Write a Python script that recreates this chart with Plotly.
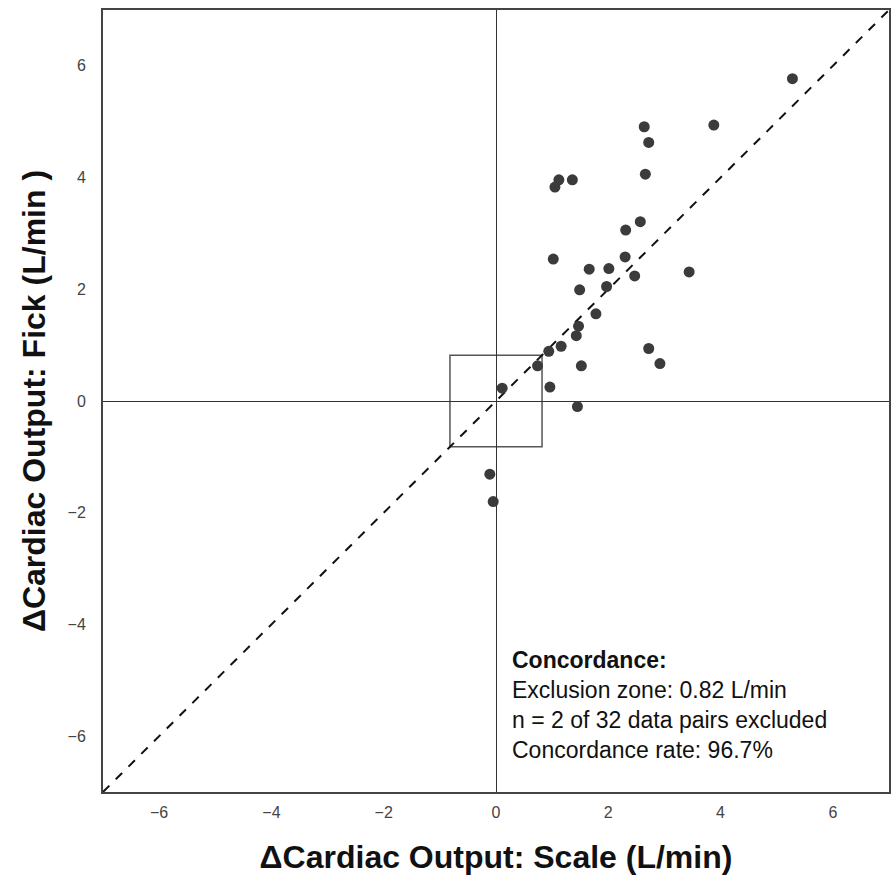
"""
Concordance plot: change in cardiac output, Fick vs Scale
"""

import plotly.graph_objects as go

# change in cardiac output (L/min)
delta_scale = [2.64, 2.72, 3.88, 1.12, 1.05, 1.36, 2.66, 2.57, 2.31, 5.28,
               1.02, 1.66, 2.01, 2.30, 2.47, 3.44, 1.49, 1.97, 1.78, 1.47,
               1.43, 1.16, 0.94, 2.72, 2.92, 0.74, 1.52, 0.96, 0.11, 1.45,
               -0.11, -0.05]
delta_fick = [4.91, 4.63, 4.94, 3.96, 3.83, 3.96, 4.06, 3.21, 3.06, 5.77,
              2.54, 2.36, 2.37, 2.58, 2.24, 2.31, 1.99, 2.05, 1.56, 1.34,
              1.17, 0.98, 0.89, 0.94, 0.67, 0.63, 0.63, 0.25, 0.23, -0.10,
              -1.31, -1.80]

exclusion_zone = 0.82
axis_range = [-7, 7]
tick_vals = [-6, -4, -2, 0, 2, 4, 6]

FONT = 'Liberation Sans, Arial'

fig = go.Figure()

# line of identity
fig.add_trace(
    go.Scatter(
        x=axis_range,
        y=axis_range,
        mode='lines',
        line=dict(color='#111111', width=2, dash='dash'),
        hoverinfo='skip',
        showlegend=False
    )
)

fig.add_trace(
    go.Scatter(
        x=delta_scale,
        y=delta_fick,
        mode='markers',
        marker=dict(color='#3b3b3b', size=11),
        showlegend=False
    )
)

# exclusion zone square
fig.add_shape(
    type='rect',
    x0=-exclusion_zone, x1=exclusion_zone,
    y0=-exclusion_zone, y1=exclusion_zone,
    line=dict(color='#555555', width=1.5),
    layer='below'
)

fig.add_annotation(
    x=0.518, y=0.188, xref='paper', yref='paper',
    xanchor='left', yanchor='top', align='left', showarrow=False,
    text=("<b>Concordance:</b><br>"
          f"Exclusion zone: {exclusion_zone} L/min<br>"
          "n = 2 of 32 data pairs excluded<br>"
          "Concordance rate: 96.7%"),
    font=dict(family=FONT, size=23, color='#111111')
)

axis_style = dict(
    range=axis_range,
    tickvals=tick_vals,
    showgrid=False,
    zeroline=True,
    zerolinecolor='#333333',
    zerolinewidth=1,
    showline=True,
    mirror=True,
    linecolor='#444444',
    linewidth=2,
    ticks='',
    automargin=False,
    tickfont=dict(family=FONT, size=16, color='#444444'),
)

fig.update_xaxes(
    **axis_style,
    ticklabelstandoff=5,
    title=dict(text='<b>ΔCardiac Output: Scale (L/min)</b>', standoff=25,
               font=dict(family=FONT, size=32, color='#111111'))
)
fig.update_yaxes(
    **axis_style,
    ticklabelstandoff=12,
    title=dict(text='<b>ΔCardiac Output: Fick (L/min )</b>', standoff=12,
               font=dict(family=FONT, size=32, color='#111111'))
)

fig.update_layout(
    width=892, height=884,
    margin=dict(l=103, r=3, t=10, b=92),
    plot_bgcolor='white',
    paper_bgcolor='white',
)

fig.write_html(
    "out.html",
    config={'displayModeBar': False},
    post_script="document.body.style.margin='0';document.body.style.overflow='hidden';"
)
